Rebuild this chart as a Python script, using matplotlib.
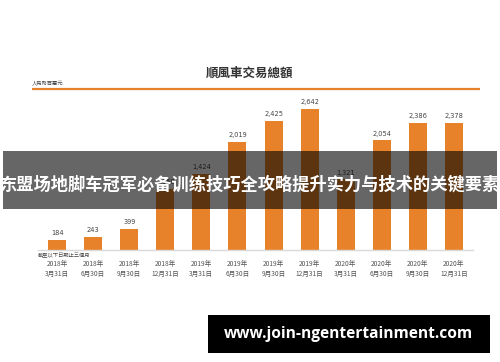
import matplotlib
matplotlib.use("Agg")
import matplotlib.pyplot as plt
from matplotlib.patches import Rectangle

tick_labels = ["2018年\n3月31日", "2018年\n6月30日", "2018年\n9月30日", "2018年\n12月31日",
               "2019年\n3月31日", "2019年\n6月30日", "2019年\n9月30日", "2019年\n12月31日",
               "2020年\n3月31日", "2020年\n6月30日", "2020年\n9月30日", "2020年\n12月31日"]
values = [184, 243, 399, 1150, 1424, 2019, 2425, 2642, 1321, 2054, 2386, 2378]

title = "順風車交易總額"
unit = "人民幣百萬元"
period_note = "截至以下日期止三個月"
banner = "东盟场地脚车冠军必备训练技巧全攻略提升实力与技术的关键要素"
url = "www.join-ngentertainment.com"

W, H = 500, 362
CJK = ["Noto Sans CJK TC", "DejaVu Sans"]
plt.rcParams["font.family"] = CJK

fig = plt.figure(figsize=(W / 100, H / 100), dpi=100)
fig.patch.set_facecolor("white")

orange = "#E8822A"

# bar axes (pixel placement)
ax_l, ax_r, ax_b, ax_t = 38, 473, 250, 90
ax = fig.add_axes([ax_l / W, (H - ax_b) / H, (ax_r - ax_l) / W, (ax_b - ax_t) / H])
x = list(range(len(values)))
ax.bar(x, values, width=0.5, color=orange, zorder=2)
ax.set_xlim(-0.53, len(values) - 0.47)
ax.set_ylim(0, (ax_b - ax_t) / 0.0534)
for xi, v in zip(x, values):
    ax.text(xi, v + 70, f"{v:,}", ha="center", va="bottom", fontsize=4.8,
            color="#444444", family=["DejaVu Sans"])
for s in ["top", "right", "left"]:
    ax.spines[s].set_visible(False)
ax.spines["bottom"].set_color("#d9d9d9")
ax.spines["bottom"].set_linewidth(1.0)
ax.set_yticks([])
ax.set_xticks(x)
ax.set_xticklabels(tick_labels, fontsize=4.8, color="#555555", linespacing=1.3)
ax.tick_params(axis="x", length=0, pad=7)
ax.set_facecolor("none")

# overlay axes in pixel coordinates
ov = fig.add_axes([0, 0, 1, 1])
ov.set_xlim(0, W)
ov.set_ylim(H, 0)
ov.axis("off")
ov.patch.set_alpha(0)

ov.text(250, 73, title, ha="center", va="center", fontsize=9, fontweight="bold",
        color="#333333")
ov.text(32, 86, unit, ha="left", va="bottom", fontsize=3.8, color="#444444")
ov.plot([32, 480], [88.5, 88.5], color=orange, lw=1.6, solid_capstyle="butt")
ov.text(38, 256, period_note, ha="left", va="center", fontsize=3.8, color="#444444")

ov.add_patch(Rectangle((3, 151), 494, 58, facecolor="black", alpha=0.6,
                       edgecolor="none", zorder=5))
ov.text(250, 185, banner, ha="center", va="center", fontsize=12.4, fontweight="bold",
        color="white", family=["Noto Sans CJK SC", "DejaVu Sans"], zorder=6)

ov.add_patch(Rectangle((208, 315), 282, 38, facecolor="black", edgecolor="none", zorder=5))
ov.text(348, 334, url, ha="center", va="center", fontsize=11.2, fontweight="bold",
        color="white", family=["Open Sans", "DejaVu Sans"], zorder=6)

fig.savefig("out.png", dpi=100, facecolor="white")
